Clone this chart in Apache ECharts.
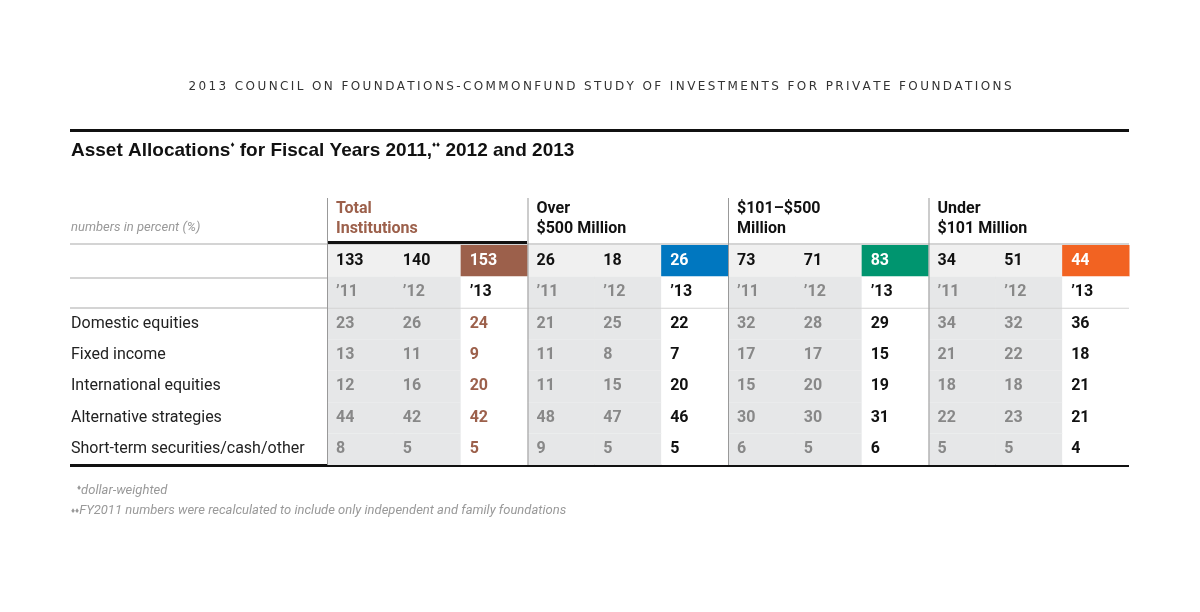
<!DOCTYPE html>
<html>
<head>
<meta charset="utf-8">
<script src="https://cdn.jsdelivr.net/npm/echarts@6/dist/echarts.min.js"></script>
<style>html,body{margin:0;background:#fff}#chart{width:1200px;height:612px}</style>
</head>
<body>
<div id="chart"></div>
<script>
// table data
var groups = ['Total\nInstitutions', 'Over\n$500 Million', '$101\u2013$500\nMillion', 'Under\n$101 Million'];
var groupColors = ['#9c604b', '#0077c0', '#00956f', '#f26322'];
var columns = ['T11', 'T12', 'T13', 'O11', 'O12', 'O13', 'M11', 'M12', 'M13', 'U11', 'U12', 'U13'];
var rows = ['count', 'year', 'Domestic equities', 'Fixed income', 'International equities', 'Alternative strategies', 'Short-term securities/cash/other'];
var counts = [133, 140, 153, 26, 18, 26, 73, 71, 83, 34, 51, 44];
var years = ['\u201911', '\u201912', '\u201913'];
var domestic = [23, 26, 24, 21, 25, 22, 32, 28, 29, 34, 32, 36];
var fixedIncome = [13, 11, 9, 11, 8, 7, 17, 17, 15, 21, 22, 18];
var international = [12, 16, 20, 11, 15, 20, 15, 20, 19, 18, 18, 21];
var alternative = [44, 42, 42, 48, 47, 46, 30, 30, 31, 22, 23, 21];
var shortTerm = [8, 5, 5, 9, 5, 5, 6, 5, 6, 5, 5, 4];

var dataRows = [counts, columns.map(function (c, i) { return years[i % 3]; }), domestic, fixedIncome, international, alternative, shortTerm];
var cells = [];
dataRows.forEach(function (r, ri) {
  r.forEach(function (v, ci) { cells.push([ci, ri, String(v)]); });
});

var FONT = '"Liberation Sans Narrow", "Roboto", sans-serif';
var chart = echarts.init(document.getElementById('chart'));

var gfx = [
  { type: 'text', left: 'center', top: 81, style: { text: '2013 COUNCIL ON FOUNDATIONS-COMMONFUND STUDY OF INVESTMENTS FOR PRIVATE FOUNDATIONS'.split('').join('\u2009'), font: '12px "DejaVu Sans"', fill: '#333' } },
  { type: 'rect', shape: { x: 70, y: 129, width: 1059, height: 3 }, style: { fill: '#111' } },
  { type: 'text', x: 71, y: 141, style: { text: '{t|Asset Allocations}{s|\u2666}{t| for Fiscal Years 2011,}{s|\u2666\u2666}{t| 2012 and 2013}', rich: { t: { font: 'bold 19px "Liberation Sans", sans-serif', fill: '#111' }, s: { font: 'bold 8px sans-serif', fill: '#111', verticalAlign: 'top', padding: [0, 0, 8, 0] } } } },
  { type: 'text', x: 71, y: 221, style: { text: 'numbers in percent (%)', font: 'italic 13px ' + FONT, fill: '#999' } },
  { type: 'rect', shape: { x: 70, y: 243.5, width: 1059, height: 1 }, style: { fill: '#aaa' } },
  { type: 'rect', shape: { x: 70, y: 277.5, width: 1059, height: 1 }, style: { fill: '#aaa' } },
  { type: 'rect', shape: { x: 70, y: 307.5, width: 1059, height: 1 }, style: { fill: '#aaa' } },
  { type: 'rect', shape: { x: 327, y: 241, width: 200, height: 3 }, style: { fill: '#111' } },
  { type: 'rect', shape: { x: 70, y: 464, width: 1059, height: 3 }, style: { fill: '#111' } },
  { type: 'text', x: 77, y: 484, style: { text: '{s|\u2666}dollar-weighted', rich: { s: { fontSize: 8, fill: '#999', verticalAlign: 'top' } }, font: 'italic 13px ' + FONT, fill: '#999' } },
  { type: 'text', x: 71, y: 504, style: { text: '{s|\u2666\u2666}FY2011 numbers were recalculated to include only independent and family foundations', rich: { s: { fontSize: 8, fill: '#999' } }, font: 'italic 13px ' + FONT, fill: '#999' } }
];
groups.forEach(function (g, i) {
  var x = 327 + i * 200.5;
  gfx.push({ type: 'text', x: x + 9, y: 199, style: { text: g, font: 'bold 16px ' + FONT, fill: i === 0 ? groupColors[0] : '#111', lineHeight: 20 } });
  gfx.push({ type: 'rect', z: 10, shape: { x: x, y: 198, width: 1, height: 267 }, style: { fill: '#999' } });
});

chart.setOption({
  animation: false,
  grid: { left: 327, right: 71, top: 245, height: 220 },
  xAxis: { type: 'category', data: columns, show: false },
  yAxis: {
    type: 'category', data: rows, inverse: true,
    axisLine: { show: false }, axisTick: { show: false }, splitLine: { show: false },
    axisLabel: {
      margin: 256, align: 'left', fontFamily: FONT, fontSize: 16, color: '#222',
      formatter: function (v) { return v === 'count' || v === 'year' ? '' : v; }
    }
  },
  graphic: gfx,
  series: [{
    type: 'custom',
    data: cells,
    renderItem: function (params, api) {
      var cell = cells[params.dataIndex];
      var ci = cell[0], ri = cell[1];
      var c = api.coord([ci, ri]), s = api.size([1, 1]);
      var x0 = c[0] - s[0] / 2, y0 = c[1] - s[1] / 2;
      var pos = ci % 3, grp = Math.floor(ci / 3);
      var fill = '#fff', color = '#888';
      if (pos < 2) { fill = ri === 0 ? '#f0f0f0' : '#e6e7e8'; }
      if (ri === 0) { color = '#111'; }
      if (pos === 2) {
        color = grp === 0 ? '#9c604b' : '#111';
        if (ri === 1) color = '#111';
        if (ri === 0) { fill = groupColors[grp]; color = '#fff'; }
      }
      var top = ri === 2 ? y0 + 1 : y0;
      var h = ri === 2 ? s[1] - 1 : s[1];
      return {
        type: 'group',
        children: [
          { type: 'rect', shape: { x: x0, y: top, width: s[0] + 0.5, height: h }, style: { fill: fill } },
          { type: 'text', x: x0 + 9, y: c[1], style: { text: cell[2], font: 'bold 16px ' + FONT, fill: color, verticalAlign: 'middle' } }
        ]
      };
    },
    encode: { x: 0, y: 1 }
  }]
});
</script>
</body>
</html>
